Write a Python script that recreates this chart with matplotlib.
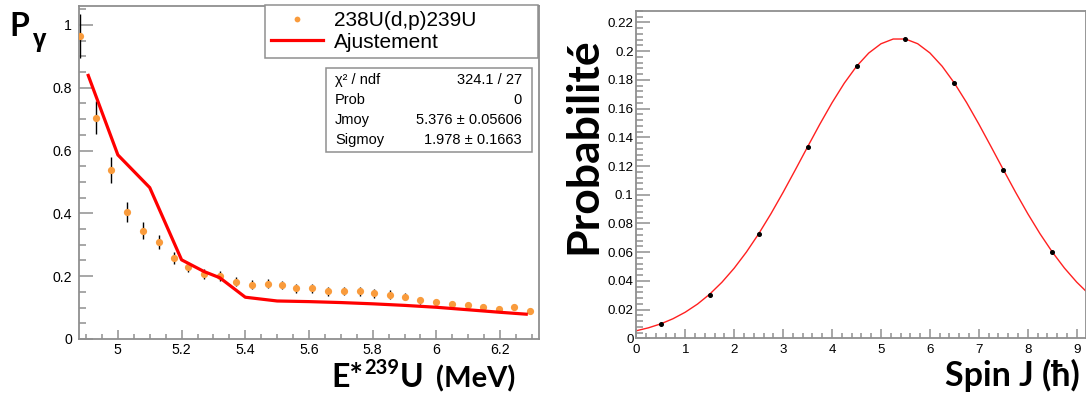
import matplotlib
matplotlib.use("Agg")
import matplotlib.pyplot as plt
from matplotlib.ticker import MultipleLocator, FuncFormatter
from matplotlib.patches import Rectangle

# ---------------- data: left panel ----------------
energy = [4.88, 4.93, 4.98, 5.03, 5.08, 5.13, 5.175, 5.22, 5.27, 5.32,
          5.37, 5.42, 5.47, 5.515, 5.56, 5.61, 5.66, 5.71, 5.76, 5.805,
          5.855, 5.90, 5.95, 6.00, 6.05, 6.10, 6.145, 6.195, 6.245, 6.295]
p_gamma = [0.964, 0.704, 0.538, 0.405, 0.344, 0.308, 0.257, 0.228, 0.208, 0.200,
           0.183, 0.173, 0.176, 0.172, 0.162, 0.162, 0.152, 0.153, 0.152, 0.146,
           0.141, 0.135, 0.123, 0.117, 0.110, 0.107, 0.101, 0.096, 0.101, 0.088]
p_gamma_err = [0.070, 0.053, 0.042, 0.031, 0.027, 0.023, 0.019, 0.016, 0.016, 0.016,
               0.015, 0.015, 0.015, 0.014, 0.014, 0.014, 0.014, 0.014, 0.014, 0.014,
               0.014, 0.010, 0.010, 0.010, 0.010, 0.010, 0.010, 0.010, 0.010, 0.010]
fit_energy = [4.907, 5.00, 5.10, 5.20, 5.27, 5.32, 5.40, 5.50, 5.60, 5.70,
              5.80, 5.90, 6.00, 6.10, 6.20, 6.282]
fit_p = [0.839, 0.586, 0.482, 0.252, 0.215, 0.195, 0.133, 0.121, 0.119, 0.116,
         0.112, 0.107, 0.101, 0.093, 0.085, 0.079]

legend_labels = ["238U(d,p)239U", "Ajustement"]
stats_names = ["\u03c7\u00b2 / ndf", "Prob", "Jmoy", "Sigmoy"]
stats_values = ["324.1 / 27", "0", "5.376 \u00b1 0.05606", "1.978 \u00b1 0.1663"]

# ---------------- data: right panel ----------------
spin_pts = [0.5, 1.5, 2.5, 3.5, 4.5, 5.5, 6.5, 7.5, 8.5]
prob_pts = [0.0098, 0.0302, 0.0725, 0.1332, 0.1894, 0.2085, 0.1778, 0.1173, 0.0598]
spin_curve = [0.0, 0.25, 0.5, 0.75, 1.0, 1.25, 1.5, 1.75, 2.0, 2.25, 2.5, 2.75,
              3.0, 3.25, 3.5, 3.75, 4.0, 4.25, 4.5, 4.75, 5.0, 5.25, 5.5, 5.75,
              6.0, 6.25, 6.5, 6.75, 7.0, 7.25, 7.5, 7.75, 8.0, 8.25, 8.5, 8.75,
              9.0, 9.25]
prob_curve = [0.00524, 0.00732, 0.01006, 0.01363, 0.01817, 0.02382, 0.03074, 0.03905,
              0.04882, 0.06007, 0.07274, 0.08668, 0.10167, 0.11737, 0.13335, 0.14911,
              0.16408, 0.17771, 0.18942, 0.19871, 0.20517, 0.20848, 0.20849, 0.20521,
              0.19878, 0.18951, 0.17781, 0.16420, 0.14922, 0.13347, 0.11750, 0.10180,
              0.08680, 0.07284, 0.06016, 0.04890, 0.03913, 0.03080]

W, H = 1086, 397
fig = plt.figure(figsize=(W / 100, H / 100), dpi=100)
fig.patch.set_facecolor("white")

TICKFONT = ["Liberation Sans", "DejaVu Sans"]
BIGFONT = ["Lato", "Open Sans", "DejaVu Sans"]
GREY = "#8f8f8f"
ORANGE = "#f99b3c"


def fx(px):
    return px / W


def fy(py):
    return 1 - py / H


def style_axes(ax, ymaj_len, xmaj_len, fs, ypad, xpad):
    for s in ax.spines.values():
        s.set_color(GREY)
        s.set_linewidth(1.3)
    ax.tick_params(axis="both", which="both", direction="in", colors=GREY,
                   labelcolor="black", width=1.1)
    ax.tick_params(axis="y", which="major", length=ymaj_len, pad=ypad, labelsize=fs)
    ax.tick_params(axis="y", which="minor", length=ymaj_len / 2)
    ax.tick_params(axis="x", which="major", length=xmaj_len, pad=xpad, labelsize=fs)
    ax.tick_params(axis="x", which="minor", length=xmaj_len / 2)
    for lab in ax.get_xticklabels() + ax.get_yticklabels():
        lab.set_family(TICKFONT)


gfmt = FuncFormatter(lambda v, p: ("%g" % round(v, 4)))

# ---------------- left panel ----------------
ax1 = fig.add_axes([fx(79), fy(339), fx(539) - fx(79), fy(6) - fy(339)])
ax1.errorbar(energy, p_gamma, yerr=p_gamma_err, fmt="none", ecolor="black",
             elinewidth=1.0, capsize=0, zorder=2)
pts, = ax1.plot(energy, p_gamma, "o", color=ORANGE, markersize=5.2,
                markeredgewidth=0, zorder=3, label=legend_labels[0])
fitl, = ax1.plot(fit_energy, fit_p, "-", color="#ff0000", linewidth=2.3,
                 zorder=4, label=legend_labels[1])
ax1.set_xlim(4.878, 6.322)
ax1.set_ylim(0, 1.06)
ax1.xaxis.set_major_locator(MultipleLocator(0.2))
ax1.xaxis.set_minor_locator(MultipleLocator(0.05))
ax1.yaxis.set_major_locator(MultipleLocator(0.2))
ax1.yaxis.set_minor_locator(MultipleLocator(0.05))
ax1.xaxis.set_major_formatter(gfmt)
ax1.yaxis.set_major_formatter(gfmt)
style_axes(ax1, 10, 6.5, 10.2, 5, 3)

leg = ax1.legend(handles=[pts, fitl], labels=legend_labels,
                 loc="upper left",
                 bbox_to_anchor=(fx(265), fy(61), fx(538) - fx(265), fy(5) - fy(61)),
                 bbox_transform=fig.transFigure, mode="expand",
                 prop={"family": TICKFONT, "size": 15},
                 frameon=True, fancybox=False, edgecolor=GREY, framealpha=1,
                 borderaxespad=0, borderpad=0.3, labelspacing=0.12,
                 handlelength=2.5, handletextpad=0.5, markerscale=0.8)
leg.get_frame().set_linewidth(1.1)

# stats box
fig.patches.append(Rectangle((fx(326), fy(152)), fx(532) - fx(326), fy(68) - fy(152),
                             transform=fig.transFigure, facecolor="white",
                             edgecolor=GREY, linewidth=1.1, zorder=5))
row_y = [80, 100, 120, 140]
for name, val, ry in zip(stats_names, stats_values, row_y):
    fig.text(fx(335), fy(ry), name, family=TICKFONT, fontsize=10.5,
             ha="left", va="center", zorder=6)
    fig.text(fx(522), fy(ry), val, family=TICKFONT, fontsize=10.5,
             ha="right", va="center", zorder=6)

# big labels (left)
fig.text(fx(9), fy(36), "P", family=BIGFONT, fontweight="bold", fontsize=23,
         ha="left", va="baseline")
fig.text(fx(32), fy(46), "\u03b3", family=["Open Sans", "DejaVu Sans"],
         fontweight="bold", fontsize=17, ha="left", va="baseline")

fig.canvas.draw()
r = fig.canvas.get_renderer()
x0 = 331
base = 387
t = fig.text(fx(x0), fy(base), "E*", family=BIGFONT, fontweight="bold",
             fontsize=23, ha="left", va="baseline")
bb = t.get_window_extent(r)
t2 = fig.text(bb.x1 / W + fx(1), fy(374), "239", family=BIGFONT, fontweight="bold",
              fontsize=14.5, ha="left", va="baseline")
bb2 = t2.get_window_extent(r)
t3 = fig.text(bb2.x1 / W + fx(1), fy(base), "U", family=BIGFONT, fontweight="bold",
              fontsize=23, ha="left", va="baseline")
bb3 = t3.get_window_extent(r)
fig.text(bb3.x1 / W + fx(12), fy(base), "(MeV)", family=BIGFONT, fontweight="bold",
         fontsize=21, ha="left", va="baseline")

# ---------------- right panel ----------------
ax2 = fig.add_axes([fx(636.3), fy(338.3), fx(1086) - fx(636.3), fy(11) - fy(338.3)])
ax2.plot(spin_curve, prob_curve, "-", color="#ff2020", linewidth=1.0, zorder=2)
ax2.plot(spin_pts, prob_pts, "o", color="black", markersize=2.6, zorder=3)
ax2.set_xlim(0, 9.19)
ax2.set_ylim(0, 0.228)
ax2.xaxis.set_major_locator(MultipleLocator(1))
ax2.xaxis.set_minor_locator(MultipleLocator(0.2))
ax2.yaxis.set_major_locator(MultipleLocator(0.02))
ax2.yaxis.set_minor_locator(MultipleLocator(0.004))
ax2.xaxis.set_major_formatter(gfmt)
ax2.yaxis.set_major_formatter(gfmt)
style_axes(ax2, 10, 6.5, 9.6, 2, 4)

fig.text(fx(583), fy(146), "Probabilit\u00e9", family=BIGFONT, fontweight="bold",
         fontsize=32, rotation=90, ha="center", va="center")
fig.text(fx(1080), fy(386), "Spin J (\u0127)", family=BIGFONT, fontweight="bold",
         fontsize=24.5, ha="right", va="baseline")

fig.savefig("out.png", dpi=100, facecolor="white")
